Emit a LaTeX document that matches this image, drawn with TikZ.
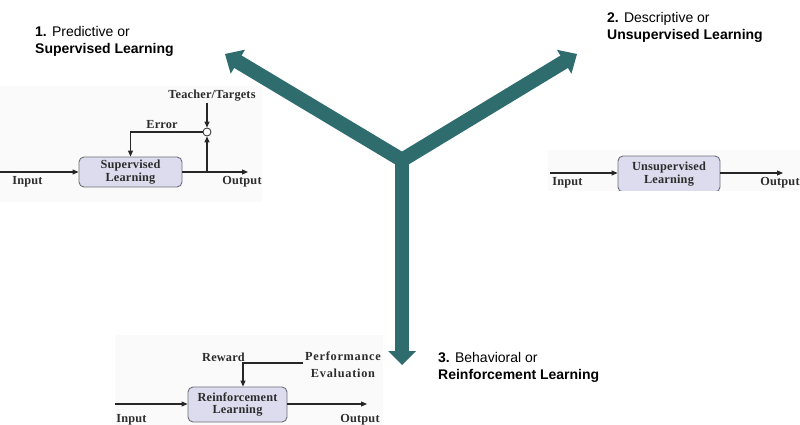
\documentclass[tikz,border=0pt]{standalone}
\usepackage{fontspec}
\setmainfont{Liberation Sans}
\newfontfamily\diagfont[LetterSpace=1.5]{Liberation Serif}
\usetikzlibrary{arrows.meta,calc}
\definecolor{ytea}{HTML}{2E6C6D}
\definecolor{boxfill}{HTML}{DCDCEE}
\definecolor{boxline}{HTML}{6E6E78}
\definecolor{ink}{HTML}{262626}
\definecolor{inktext}{HTML}{2C2C2C}
\definecolor{patch}{HTML}{FAFAFA}
\begin{document}
\begin{tikzpicture}[x=1pt,y=-1pt,
  lbl/.style={font=\diagfont\bfseries\fontsize{12.3}{12.5}\selectfont, text=inktext, inner sep=0pt},
  widelbl/.style={lbl, font=\diagfont\bfseries\fontsize{12.3}{12.5}\addfontfeature{LetterSpace=6}\selectfont},
  blk/.style={lbl, draw=boxline, fill=boxfill, rounded corners=5pt, align=center, line width=0.9pt},
  flow/.style={draw=ink, line width=1.1pt, -{Triangle[length=6pt,width=5pt]}},
  sumpt/.style={draw=ink, fill=white, circle, inner sep=0pt, minimum size=8pt, line width=0.8pt},
  hd/.style={font=\fontsize{14}{17}\selectfont, anchor=base west, inner sep=0pt},
  shaft/.style={draw=ytea, line width=14.5pt}
]
\useasboundingbox (0,0) rectangle (800,425);

% ---- three-way branching arrow ----
\coordinate (hub) at (402,160);
\coordinate (tipL) at (225,54);
\coordinate (tipR) at (577,54);
\coordinate (tipD) at (402,365);
\coordinate (bL) at ($(tipL)!15pt!(hub)$);
\coordinate (bR) at ($(tipR)!15pt!(hub)$);
\coordinate (bD) at ($(tipD)!14pt!(hub)$);
\draw[shaft, line join=miter] ($(tipL)!13pt!(hub)$) -- (hub) -- ($(tipR)!13pt!(hub)$);
\draw[shaft] (hub) -- ($(tipD)!12pt!(hub)$);
\fill[ytea] (tipL) -- ($(bL)!14pt!90:(tipL)$) -- ($(bL)!14pt!-90:(tipL)$) -- cycle;
\fill[ytea] (tipR) -- ($(bR)!14pt!90:(tipR)$) -- ($(bR)!14pt!-90:(tipR)$) -- cycle;
\fill[ytea] (tipD) -- ($(bD)!14pt!90:(tipD)$) -- ($(bD)!14pt!-90:(tipD)$) -- cycle;

% ---- headings ----
\node[hd] (h1a) at (35,37) {\textbf{1.} Predictive or};
\node[hd] (h1b) at (35,54) {\textbf{Supervised Learning}};
\node[hd] (h2a) at (607,23) {\textbf{2.} Descriptive or};
\node[hd] (h2b) at (607,40) {\textbf{Unsupervised Learning}};
\node[hd] (h3a) at (438,362) {\textbf{3.} Behavioral or};
\node[hd] (h3b) at (438,379) {\textbf{Reinforcement Learning}};

% ---- supervised learning loop ----
\begin{scope}
\clip (0,86) rectangle (262,202);
\fill[patch] (0,86) rectangle (262,202);
\node[blk, minimum width=103pt, minimum height=30pt] (sl) at (130.5,172) {Supervised\\Learning};
\coordinate (sin) at (0,172);
\coordinate (sout) at (248,172);
\coordinate (stap) at (207,172);
\node[sumpt] (cmp) at (207,132) {};
\node[lbl] (teach) at (212,96) {Teacher/Targets};
\coordinate (tin) at (207,103);
\node[lbl] (err) at (162,125) {Error};
\node[lbl] (sinl) at (27.5,182) {Input};
\node[lbl] (soutl) at (242,182) {Output};
\draw[flow] (sin) -- (sl);
\draw[flow] (sl.east) -- (sout);
\draw[flow] (stap) -- (cmp);
\draw[flow] (tin) -- (cmp);
\draw[flow] (cmp.west) -| (sl.north);
\end{scope}

% ---- unsupervised learning ----
\begin{scope}
\clip (548,150) rectangle (800,190.5);
\fill[patch] (548,150) rectangle (800,190.5);
\node[blk, minimum width=102pt, minimum height=36pt] (ul) at (669,174) {Unsupervised\\Learning};
\coordinate (uin) at (550,173);
\coordinate (uout) at (783,173);
\node[lbl] (uinl) at (567.5,183) {Input};
\node[lbl] (uoutl) at (780,183) {Output};
\draw[flow] (uin) -- (uin -| ul.west);
\draw[flow] (uout -| ul.east) -- (uout);
\end{scope}

% ---- reinforcement learning ----
\begin{scope}
\clip (115,335) rectangle (383,425);
\fill[patch] (115,335) rectangle (383,425);
\node[blk, minimum width=99pt, minimum height=35pt] (rl) at (237.5,404.5) {Reinforcement\\Learning};
\coordinate (rin) at (115,404);
\coordinate (rout) at (367,404);
\node[lbl] (rinl) at (131.5,420) {Input};
\node[lbl] (routl) at (360,420) {Output};
\node[lbl] (rew) at (223.5,357) {Reward};
\node[widelbl] (perf) at (343,356) {Performance};
\node[widelbl] (eval) at (343,373) {Evaluation};
\coordinate (rfb) at (303,363);
\coordinate (rkink) at (243,363);
\draw[flow] (rin) -- (rin -| rl.west);
\draw[flow] (rout -| rl.east) -- (rout);
\draw[flow] (rfb) -- (rkink) -- (rkink |- rl.north);
\end{scope}
\end{tikzpicture}
\end{document}
